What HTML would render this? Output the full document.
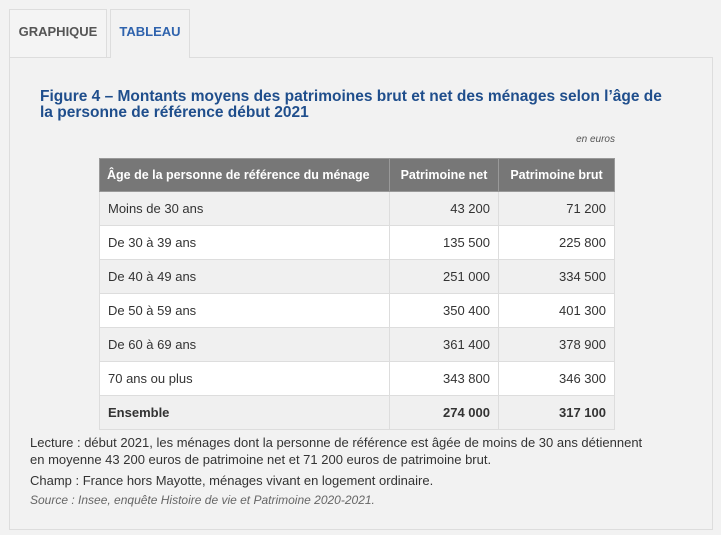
<!DOCTYPE html>
<html><head><meta charset="utf-8"><style>
body{margin:0;width:721px;height:535px;background:#f2f2f2;font-family:"Liberation Sans","DejaVu Sans",sans-serif;position:relative;overflow:hidden;color:#333}
.tab{position:absolute;top:9px;height:48px;border:1px solid #ddd;border-bottom:none;box-sizing:border-box;font-weight:bold;font-size:13px;text-align:center;line-height:44px;background:#f4f4f4}
.panel{position:absolute;left:9px;top:57px;width:704px;height:473px;border:1px solid #ddd;box-sizing:border-box}
h1{position:absolute;left:40px;top:89px;margin:0;font-size:15.5px;line-height:16px;color:#1f4e8c;font-weight:bold;width:680px;white-space:nowrap}
table{position:absolute;left:99px;top:158px;border-collapse:collapse;font-size:13px;table-layout:fixed;width:515px}
td,th{border:1px solid #ddd;height:34px;padding:0 8px;box-sizing:border-box;white-space:nowrap}
th{background:#777;color:#fff;font-weight:bold;border-color:#999;height:33px;font-size:12.5px;padding:0 7px}
td.n{text-align:right}
tr:nth-child(even) td{background:#f0f0f0}
tr:nth-child(odd) td{background:#fff}
.note{position:absolute;left:30px;font-size:13px;line-height:17px}
</style></head><body>
<div class="tab" style="left:9px;width:98px;color:#555">GRAPHIQUE</div>
<div class="tab" style="left:110px;width:80px;height:49px;color:#2f63ad;background:#f2f2f2">TABLEAU</div>
<div class="panel"></div>
<div class="tab" style="left:111px;width:78px;top:56px;height:2px;border:none;background:#f2f2f2"></div>
<h1>Figure 4 – Montants moyens des patrimoines brut et net des ménages selon l’âge de<br>la personne de référence début 2021</h1>
<div style="position:absolute;right:106px;top:134px;font-size:10px;font-style:italic;color:#555">en euros</div>
<table>
<colgroup><col style="width:290px"><col style="width:109px"><col style="width:116px"></colgroup>
<tr><th style="text-align:left">Âge de la personne de référence du ménage</th><th>Patrimoine net</th><th>Patrimoine brut</th></tr>
<tr><td>Moins de 30 ans</td><td class="n">43 200</td><td class="n">71 200</td></tr>
<tr><td>De 30 à 39 ans</td><td class="n">135 500</td><td class="n">225 800</td></tr>
<tr><td>De 40 à 49 ans</td><td class="n">251 000</td><td class="n">334 500</td></tr>
<tr><td>De 50 à 59 ans</td><td class="n">350 400</td><td class="n">401 300</td></tr>
<tr><td>De 60 à 69 ans</td><td class="n">361 400</td><td class="n">378 900</td></tr>
<tr><td>70 ans ou plus</td><td class="n">343 800</td><td class="n">346 300</td></tr>
<tr><td><b>Ensemble</b></td><td class="n"><b>274 000</b></td><td class="n"><b>317 100</b></td></tr>
</table>
<div class="note" style="top:434px">Lecture : début 2021, les ménages dont la personne de référence est âgée de moins de 30 ans détiennent<br>en moyenne 43 200 euros de patrimoine net et 71 200 euros de patrimoine brut.</div>
<div class="note" style="top:472px">Champ : France hors Mayotte, ménages vivant en logement ordinaire.</div>
<div class="note" style="top:492px;font-size:12px;font-style:italic;color:#666">Source : Insee, enquête Histoire de vie et Patrimoine 2020-2021.</div>
</body></html>
